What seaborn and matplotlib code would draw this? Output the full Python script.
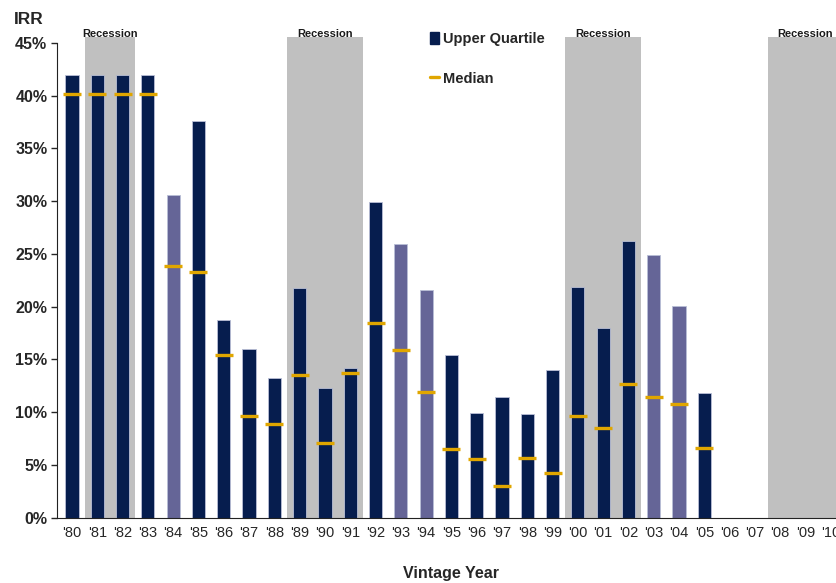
import numpy as np
import pandas as pd
import matplotlib
matplotlib.use("Agg")
import matplotlib.pyplot as plt
from matplotlib.patches import Patch
from matplotlib.lines import Line2D
import seaborn as sns

# Vintage years and IRR values (percent)
vintages = ["'80", "'81", "'82", "'83", "'84", "'85", "'86", "'87", "'88", "'89",
            "'90", "'91", "'92", "'93", "'94", "'95", "'96", "'97", "'98", "'99",
            "'00", "'01", "'02", "'03", "'04", "'05", "'06", "'07", "'08", "'09", "'10"]
upper_quartile = [42.0, 42.0, 42.0, 42.0, 30.6, 37.6, 18.7, 16.0, 13.2, 21.8,
                  12.3, 14.2, 29.9, 25.9, 21.6, 15.4, 9.9, 11.4, 9.8, 14.0,
                  21.9, 18.0, 26.2, 24.9, 20.1, 11.8, np.nan, np.nan, np.nan, np.nan, np.nan]
median = [40.2, 40.2, 40.2, 40.2, 23.9, 23.3, 15.4, 9.6, 8.9, 13.5,
          7.1, 13.7, 18.5, 15.9, 11.9, 6.5, 5.6, 3.0, 5.7, 4.2,
          9.6, 8.5, 12.7, 11.4, 10.8, 6.6, np.nan, np.nan, np.nan, np.nan, np.nan]
# Vintages whose funds are still maturing (lighter bars)
maturing = ["'84", "'93", "'94", "'03", "'04"]
# Recession periods (first and last vintage)
recessions = [("'81", "'82"), ("'89", "'91"), ("'00", "'02"), ("'08", "'10")]
y_ticks = [0, 5, 10, 15, 20, 25, 30, 35, 40, 45]

NAVY = "#061d4e"
LAVENDER = "#656597"
GOLD = "#e0a600"
GREY = "#c0c0c0"
FONT = "Liberation Sans"

df = pd.DataFrame({"vintage": vintages, "upper": upper_quartile, "median": median})
df["group"] = np.where(df["vintage"].isin(maturing), "maturing", "mature")
df["pos"] = np.arange(len(df))

sns.set_style("ticks")
plt.rcParams["font.family"] = [FONT, "DejaVu Sans"]

fig = plt.figure(figsize=(8.37, 5.83), dpi=100)
W, H = 837, 583
ax_left, ax_bottom, ax_right, ax_top = 57, 517.7, 846, 36.6
ax = fig.add_axes([ax_left / W, 1 - ax_bottom / H,
                   (ax_right - ax_left) / W, (ax_bottom - ax_top) / H])

ymax = 45.6
# Recession shading
idx = {v: i for i, v in enumerate(vintages)}
for start, end in recessions:
    x0, x1 = idx[start] - 0.5, idx[end] + 0.5
    ax.axvspan(x0, x1, color=GREY, zorder=0, lw=0)
    ax.text((x0 + x1) / 2, ymax - 0.05, "Recession", ha="center", va="baseline",
            fontsize=8, fontweight="bold", color="#1a1a1a", clip_on=False)

sns.barplot(data=df, x="vintage", y="upper", hue="group", order=vintages,
            palette={"mature": NAVY, "maturing": LAVENDER}, dodge=False,
            width=0.52, edgecolor="#b9bfd6", linewidth=0.6, saturation=1,
            legend=False, ax=ax, zorder=2)

sns.scatterplot(data=df, x="pos", y="median", marker="_", s=180,
                linewidth=2.4, color=GOLD, edgecolor=GOLD, ax=ax, zorder=3,
                legend=False)

ax.set_xlim(-0.593, 30.6)
ax.set_ylim(0, ymax)
ax.set_yticks(y_ticks)
ax.set_yticklabels([f"{t}%" for t in y_ticks], fontsize=11.5, fontweight="bold")
ax.set_xticks(range(len(vintages)))
ax.set_xticklabels(vintages, fontsize=10.5)
ax.tick_params(axis="x", length=0, pad=6)
ax.tick_params(axis="y", length=4, width=1, pad=3, direction="out")
for s in ["top", "right"]:
    ax.spines[s].set_visible(False)
ax.spines["left"].set_bounds(0, 45)
ax.spines["left"].set_color("#222222")
ax.spines["bottom"].set_color("#222222")
ax.set_ylabel("")
ax.set_xlabel("Vintage Year", fontsize=11.5, fontweight="bold")
ax.xaxis.set_label_coords((451 - ax_left) / (ax_right - ax_left),
                          -(566 - ax_bottom) / (ax_bottom - ax_top))

fig.text(14 / W, 1 - 19 / H, "IRR", fontsize=12.5, fontweight="bold", va="center", ha="left")

handles = [Patch(facecolor=NAVY, edgecolor=NAVY),
           Line2D([], [], color=GOLD, lw=2.4)]
fig.legend(handles, ["Upper Quartile", "Median"], loc="upper left",
           bbox_to_anchor=(417 / W, 1 - 19 / H), frameon=False,
           handlelength=0.6, handleheight=0.9, handletextpad=0.3,
           labelspacing=1.75, prop={"family": FONT, "weight": "bold", "size": 10.5})

fig.savefig("out.png", dpi=100)
